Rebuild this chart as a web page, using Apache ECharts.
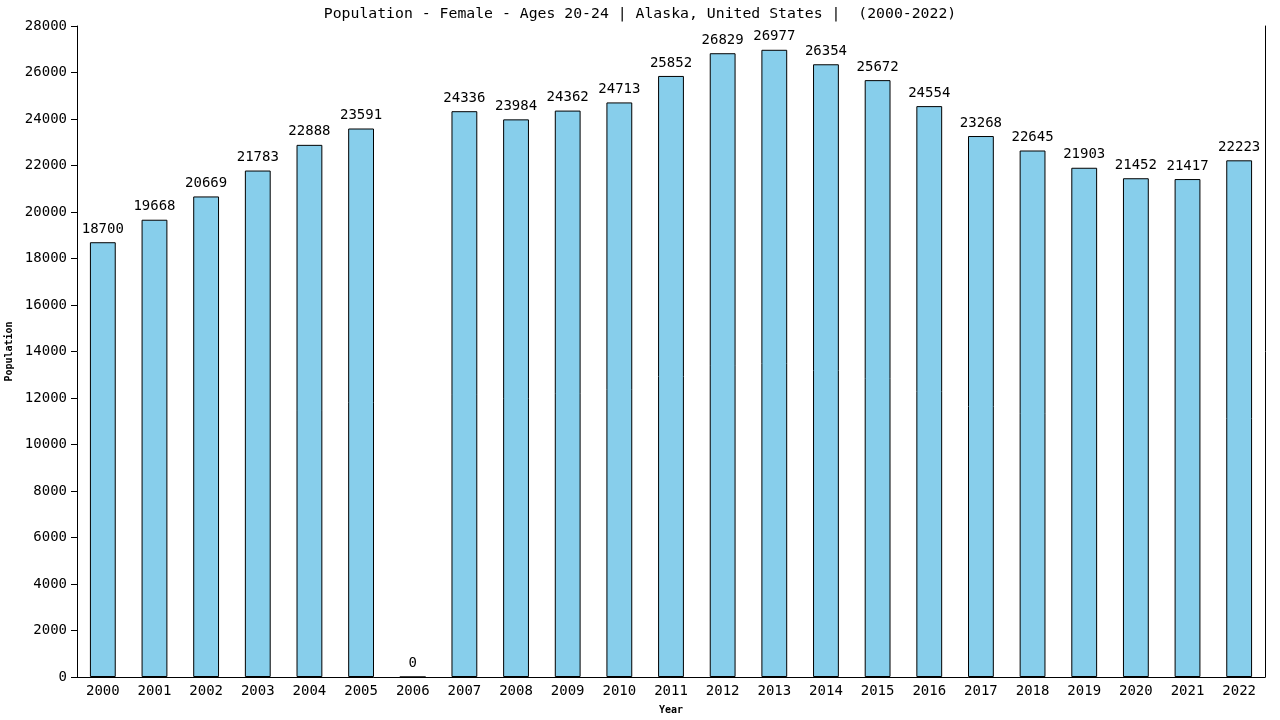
<!DOCTYPE html>
<html><head><meta charset="utf-8">
<script src="https://cdn.jsdelivr.net/npm/echarts@6/dist/echarts.min.js"></script>
<style>html,body{margin:0;padding:0;background:#fff}#c{width:1280px;height:720px}</style>
</head><body><div id="c"></div>
<script>
const years = ['2000','2001','2002','2003','2004','2005','2006','2007','2008','2009','2010','2011','2012','2013','2014','2015','2016','2017','2018','2019','2020','2021','2022'];
const population = [18700,19668,20669,21783,22888,23591,0,24336,23984,24362,24713,25852,26829,26977,26354,25672,24554,23268,22645,21903,21452,21417,22223];
const yTicks = {min:0, max:28000, interval:2000};
const titleText = 'Population - Female - Ages 20-24 | Alaska, United States |  (2000-2022)';
const font = '"DejaVu Sans Mono", monospace';
const chart = echarts.init(document.getElementById('c'));
chart.setOption({
  animation:false,
  title:{text:titleText, left:'center', top:2, textStyle:{fontFamily:font, fontSize:14.8, fontWeight:'normal', color:'#000'}},
  grid:{left:77, right:15, top:26, bottom:43, containLabel:false, outerBoundsMode:'none'},
  xAxis:[{type:'category', data:years, name:'Year', nameLocation:'middle', nameGap:28,
    nameTextStyle:{fontFamily:font, fontSize:10, fontWeight:'bold', color:'#000'},
    axisLine:{lineStyle:{color:'#000', width:1}}, axisTick:{show:false},
    axisLabel:{fontFamily:font, fontSize:14, color:'#000', margin:7, interval:0}}],
  yAxis:[{type:'value', min:yTicks.min, max:yTicks.max, interval:yTicks.interval,
    name:'Population', nameLocation:'middle', nameGap:59,
    nameTextStyle:{fontFamily:font, fontSize:10, fontWeight:'bold', color:'#000'},
    axisLine:{show:true, lineStyle:{color:'#000'}}, axisTick:{show:true, length:6, lineStyle:{color:'#000'}},
    splitLine:{show:false},
    axisLabel:{fontFamily:font, fontSize:14, color:'#000', margin:10, formatter:v=>String(v)}},
    {type:'value', position:'right', min:yTicks.min, max:yTicks.max, interval:yTicks.interval,
    axisLine:{show:true, lineStyle:{color:'#000'}}, axisTick:{show:false}, axisLabel:{show:false}, splitLine:{show:false}}],
  series:[{type:'bar', data:population, barWidth:'50%',
    itemStyle:{color:'#87ceeb', borderColor:'#000', borderWidth:1},
    label:{show:true, position:'top', distance:6, fontFamily:font, fontSize:14, color:'#000'}}]
});
</script></body></html>
